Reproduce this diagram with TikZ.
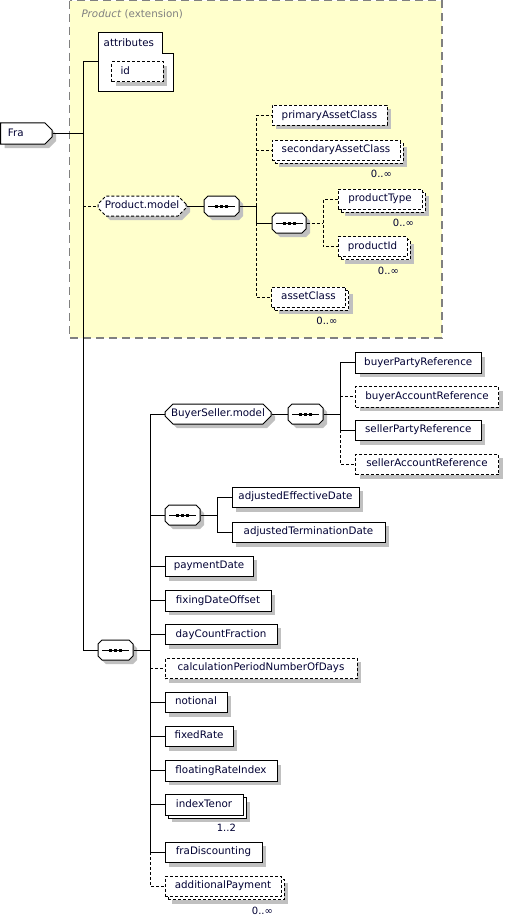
\documentclass[tikz,border=0pt]{standalone}
\usepackage{fontspec}
\setmainfont{DejaVu Sans}
\usetikzlibrary{shapes.misc,shadows}
\definecolor{shadowc}{HTML}{C0C0C0}
\definecolor{yel}{HTML}{FFFFCC}
\definecolor{bord}{HTML}{808080}
\definecolor{textc}{HTML}{000033}
\tikzset{
 every node/.style={font=\fontsize{10.3pt}{12pt}\selectfont, text=textc},
 box/.style={draw=black, fill=white, rectangle, line width=1pt, inner sep=0pt, minimum height=20.5pt, anchor=center, text height=7.5pt, text depth=2.4pt},
 sh/.style={general shadow={fill=shadowc, shadow xshift=4pt, shadow yshift=-4pt}},
 multi/.style={general shadow={fill=shadowc, draw=none, shadow xshift=7pt, shadow yshift=-7pt}, general shadow={fill=white, draw=black, solid, shadow xshift=3pt, shadow yshift=-3pt}},
 optmulti/.style={general shadow={fill=shadowc, draw=none, shadow xshift=7pt, shadow yshift=-7pt}, general shadow={fill=white, draw=black, dash pattern=on 3pt off 2pt, shadow xshift=3pt, shadow yshift=-3pt}},
 opt/.style={dash pattern=on 3pt off 2pt},
 grp/.style={box, chamfered rectangle, chamfered rectangle xsep=4pt, chamfered rectangle ysep=4pt, sh},
 comp/.style={grp, minimum width=35pt, minimum height=20pt, path picture={
   \draw[line width=1pt, solid] ([xshift=-13.5pt]path picture bounding box.center) -- ([xshift=13.5pt]path picture bounding box.center);
   \foreach \d in {-5,0,5} \fill[black] ([xshift=\d pt]path picture bounding box.center) +(-1.5,-1.5) rectangle +(1.5,1.5);
 }},
 card/.style={anchor=east, font=\fontsize{10pt}{12pt}\selectfont},
 ln/.style={line width=1pt, draw=black},
}
\begin{document}
\begin{tikzpicture}[x=1pt, y=-1pt]
\useasboundingbox (0,0) rectangle (504,915);
% extension area
\draw[bord, line width=1.5pt, dash pattern=on 8pt off 5pt, fill=yel] (69.5,0.75) rectangle (442,338);
\node[anchor=base west, text=bord] (ext) at (78,17.5) {\textit{Product} (extension)};
% attributes
\draw[line width=1pt, fill=white] (98,33) -- (162,33) -- (162,54) -- (173,54) -- (173,92) -- (98,92) -- cycle;
\node[anchor=base west, inner sep=0pt] (attr) at (103.5,47) {attributes};
\coordinate (attrin) at (98,62);
\node[box, opt, sh, minimum width=51.5pt, minimum height=20pt, inner xsep=9pt, text width=33.5pt, align=left] (id) at (137.25,72) {id};
% root
\node[box, chamfered rectangle, chamfered rectangle corners={north east,south east}, chamfered rectangle xsep=3.5pt, chamfered rectangle ysep=3.5pt, sh, minimum width=51.5pt, minimum height=21pt, inner xsep=4pt, text width=36.5pt, align=left] (fra) at (26.25,133.5) {Fra};
% Product.model
\node[grp, opt, minimum width=88pt, minimum height=20pt] (pm) at (142,206) {Product.model};
\node[comp] (s1) at (221.5,206) {};
\node[box, opt, sh, minimum width=115pt, minimum height=20pt] (pac) at (329.5,115.5) {primaryAssetClass};
\node[box, opt, optmulti, minimum width=128pt, minimum height=20pt] (sac) at (336,150) {secondaryAssetClass};
\node[comp, minimum width=34pt] (s2) at (289,223) {};
\node[box, opt, optmulti, minimum width=84pt, minimum height=20pt] (pt) at (380,199) {productType};
\node[box, opt, optmulti, minimum width=69pt, minimum height=20pt] (pid) at (372.5,246.5) {productId};
\node[box, opt, optmulti, minimum width=74pt, minimum height=20pt] (ac) at (308.5,297) {assetClass};
\node[card] (sacc) at ([xshift=-5pt,yshift=-13.5pt]sac.south east) {0..∞};
\node[card] (ptc) at ([xshift=-5pt,yshift=-13.5pt]pt.south east) {0..∞};
\node[card] (pidc) at ([xshift=-5pt,yshift=-13.5pt]pid.south east) {0..∞};
\node[card] (acc) at ([xshift=-5pt,yshift=-13.5pt]ac.south east) {0..∞};
% main sequence
\node[comp] (s3) at (115.5,650) {};
\node[grp, minimum width=106pt, minimum height=20pt] (bsm) at (218,414) {BuyerSeller.model};
\node[comp] (s4) at (305.5,414) {};
\node[box, sh, minimum width=125.5pt] (bpr) at (418.25,362.75) {buyerPartyReference};
\node[box, opt, sh, minimum width=143pt] (bar) at (427,396.75) {buyerAccountReference};
\node[box, sh, minimum width=125.5pt] (spr) at (418.25,430.25) {sellerPartyReference};
\node[box, opt, sh, minimum width=143pt] (sar) at (427,464.25) {sellerAccountReference};
\node[comp] (s5) at (182.5,515) {};
\node[box, sh, minimum width=127pt] (aed) at (295.5,497.25) {adjustedEffectiveDate};
\node[box, sh, minimum width=153pt] (atd) at (308.5,532.25) {adjustedTerminationDate};
\node[box, sh, minimum width=88pt] (pd) at (209,566.25) {paymentDate};
\node[box, sh, minimum width=106pt] (fdo) at (218,600.75) {fixingDateOffset};
\node[box, sh, minimum width=112pt] (dcf) at (221,634.5) {dayCountFraction};
\node[box, opt, sh, minimum width=192pt] (cpn) at (261,668.25) {calculationPeriodNumberOfDays};
\node[box, sh, minimum width=62pt] (nt) at (196,702.25) {notional};
\node[box, sh, minimum width=68pt] (fr) at (199,736.25) {fixedRate};
\node[box, sh, minimum width=112pt] (fri) at (221,770.75) {floatingRateIndex};
\node[box, multi, minimum width=78pt] (it) at (204,804.75) {indexTenor};
\node[box, sh, minimum width=97pt] (fd) at (213.5,852.25) {fraDiscounting};
\node[box, opt, optmulti, minimum width=116pt] (ap) at (223,886.25) {additionalPayment};
\node[card] (itc) at ([xshift=-4pt,yshift=-12.5pt]it.south east) {1..2};
\node[card] (apc) at ([xshift=-5pt,yshift=-13.5pt]ap.south east) {0..∞};
% junction columns
\coordinate (tr) at (83,0);
\coordinate (j1) at (256,0);
\coordinate (j2) at (323,0);
\coordinate (j3) at (150,0);
\coordinate (j4) at (340,0);
\coordinate (j5) at (217,0);
% connectors
\draw[ln] (fra.east) -- (fra.east -| tr);
\draw[ln] (attrin) -- (attrin -| tr) -- (s3.west -| tr) -- (s3.west);
\draw[ln, opt] (pm.west -| tr) -- (pm.west);
\draw[ln] (pm.east) -- (s1.west);
\draw[ln] (s1.east) -- (s1.east -| j1) -- (s2.west -| j1) -- (s2.west);
\draw[ln, opt] (s1.east -| j1) -- (pac.west -| j1) -- (pac.west);
\draw[ln, opt] (sac.west -| j1) -- (sac.west);
\draw[ln, opt] (s2.west -| j1) -- (ac.west -| j1) -- (ac.west);
\draw[ln, opt] (s2.east) -- (s2.east -| j2);
\draw[ln, opt] (pt.west) -- (pt.west -| j2) -- (pid.west -| j2) -- (pid.west);
\draw[ln] (s3.east) -- (s3.east -| j3);
\draw[ln] (bsm.west) -- (bsm.west -| j3) -- (fd.west -| j3) -- (fd.west);
\draw[ln, opt] (fd.west -| j3) -- (ap.west -| j3) -- (ap.west);
\draw[ln] (s5.west -| j3) -- (s5.west);
\draw[ln] (pd.west -| j3) -- (pd.west);
\draw[ln] (fdo.west -| j3) -- (fdo.west);
\draw[ln] (dcf.west -| j3) -- (dcf.west);
\draw[ln, opt] (cpn.west -| j3) -- (cpn.west);
\draw[ln] (nt.west -| j3) -- (nt.west);
\draw[ln] (fr.west -| j3) -- (fr.west);
\draw[ln] (fri.west -| j3) -- (fri.west);
\draw[ln] (it.west -| j3) -- (it.west);
\draw[ln] (bsm.east) -- (s4.west);
\draw[ln] (s4.east) -- (s4.east -| j4);
\draw[ln] (bpr.west) -- (bpr.west -| j4) -- (spr.west -| j4) -- (spr.west);
\draw[ln, opt] (bar.west -| j4) -- (bar.west);
\draw[ln, opt] (spr.west -| j4) -- (sar.west -| j4) -- (sar.west);
\draw[ln] (s5.east) -- (s5.east -| j5);
\draw[ln] (aed.west) -- (aed.west -| j5) -- (atd.west -| j5) -- (atd.west);
\end{tikzpicture}
\end{document}
